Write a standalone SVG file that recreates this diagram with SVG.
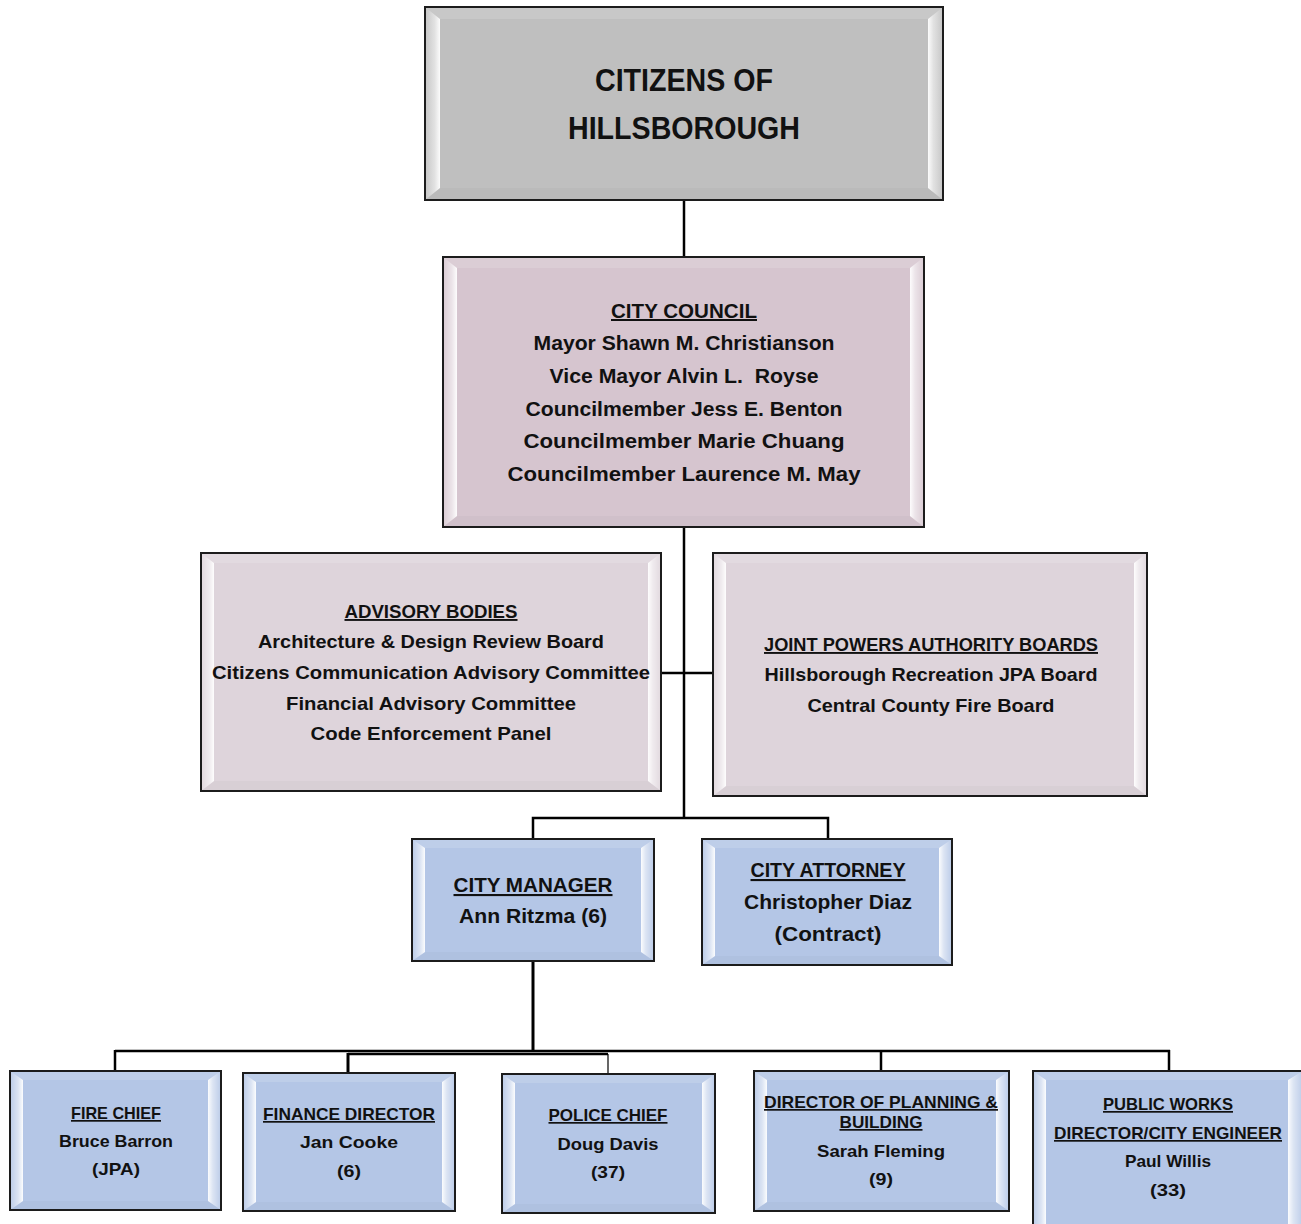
<svg xmlns="http://www.w3.org/2000/svg" width="1301" height="1224" viewBox="0 0 1301 1224">
<defs>
<linearGradient id="gl" x1="0" y1="0" x2="1" y2="0">
<stop offset="0" stop-color="#fff" stop-opacity="0.1"/>
<stop offset="0.65" stop-color="#fff" stop-opacity="0.55"/>
<stop offset="1" stop-color="#fff" stop-opacity="0.95"/>
</linearGradient>
<linearGradient id="gr" x1="0" y1="0" x2="1" y2="0">
<stop offset="0" stop-color="#fff" stop-opacity="0.95"/>
<stop offset="0.35" stop-color="#fff" stop-opacity="0.55"/>
<stop offset="1" stop-color="#fff" stop-opacity="0.1"/>
</linearGradient>
<style>
.box{stroke:#1c1c1c;stroke-width:2}
.fill-gray{fill:#bfbfbf}
.fill-mauve{fill:#d6c5cf}
.fill-lmauve{fill:#ded4db}
.fill-blue{fill:#b4c6e6}
.bl{fill:url(#gl)}
.br{fill:url(#gr)}
.bt{fill:#fff;fill-opacity:0.14}
.bb{fill:#000;fill-opacity:0.025}
.edge{fill:none;stroke:#1c1c1c;stroke-width:2}
.t{font-family:"Liberation Sans",Arial,sans-serif;font-weight:bold;fill:#111;text-anchor:middle}
.u{text-decoration:underline}
.c{stroke:#000;fill:none;stroke-width:2.5}
.c3{stroke:#000;fill:none;stroke-width:3}
.c1{stroke:#000;fill:none;stroke-width:1.2}
</style>
</defs>

<g id="connectors">
<line class="c" x1="684" y1="200" x2="684" y2="257"/>
<line class="c" x1="684" y1="527" x2="684" y2="819"/>
<line class="c" x1="661" y1="673" x2="713" y2="673"/>
<polyline class="c" points="533,839 533,818 828,818 828,839"/>
<line class="c3" x1="533" y1="961" x2="533" y2="1052"/>
<line class="c" x1="115" y1="1051" x2="1170" y2="1051"/>
<line class="c" x1="115" y1="1050" x2="115" y2="1071"/>
<line class="c3" x1="348" y1="1053" x2="348" y2="1073"/>
<line class="c" x1="348" y1="1054" x2="608" y2="1054"/>
<line class="c1" x1="608" y1="1054" x2="608" y2="1074"/>
<line class="c" x1="881" y1="1050" x2="881" y2="1071"/>
<line class="c" x1="1169" y1="1050" x2="1169" y2="1071"/>
</g>

<g id="citizens">
<rect class="fill-gray" x="425" y="7" width="518" height="193"/>
<polygon class="bt" points="425,7 943,7 928,19 440,19"/>
<polygon class="bb" points="425,200 943,200 928,188 440,188"/>
<polygon class="bl" points="425,7 440,19 440,188 425,200"/>
<polygon class="br" points="943,7 928,19 928,188 943,200"/>
<rect class="edge" x="425" y="7" width="518" height="193"/>
<text class="t" x="684" y="91" font-size="31" textLength="178" lengthAdjust="spacingAndGlyphs">CITIZENS OF</text>
<text class="t" x="684" y="139" font-size="31" textLength="232" lengthAdjust="spacingAndGlyphs">HILLSBOROUGH</text>
</g>

<g id="council">
<rect class="fill-mauve" x="443" y="257" width="481" height="270"/>
<polygon class="bt" points="443,257 924,257 910,268 457,268"/>
<polygon class="bb" points="443,527 924,527 910,516 457,516"/>
<polygon class="bl" points="443,257 457,268 457,516 443,527"/>
<polygon class="br" points="924,257 910,268 910,516 924,527"/>
<rect class="edge" x="443" y="257" width="481" height="270"/>
<text class="t u" x="684" y="318" font-size="20" textLength="146" lengthAdjust="spacingAndGlyphs">CITY COUNCIL</text>
<text class="t" x="684" y="350" font-size="20" textLength="301" lengthAdjust="spacingAndGlyphs">Mayor Shawn M. Christianson</text>
<text class="t" x="684" y="383" font-size="20" textLength="269" lengthAdjust="spacingAndGlyphs" xml:space="preserve">Vice Mayor Alvin L.  Royse</text>
<text class="t" x="684" y="416" font-size="20" textLength="317" lengthAdjust="spacingAndGlyphs">Councilmember Jess E. Benton</text>
<text class="t" x="684" y="448" font-size="20" textLength="321" lengthAdjust="spacingAndGlyphs">Councilmember Marie Chuang</text>
<text class="t" x="684" y="481" font-size="20" textLength="353" lengthAdjust="spacingAndGlyphs">Councilmember Laurence M. May</text>
</g>

<g id="advisory">
<rect class="fill-lmauve" x="201" y="553" width="460" height="238"/>
<polygon class="bt" points="201,553 661,553 648,563 214,563"/>
<polygon class="bb" points="201,791 661,791 648,781 214,781"/>
<polygon class="bl" points="201,553 214,563 214,781 201,791"/>
<polygon class="br" points="661,553 648,563 648,781 661,791"/>
<rect class="edge" x="201" y="553" width="460" height="238"/>
<text class="t u" x="431" y="618" font-size="19" textLength="173" lengthAdjust="spacingAndGlyphs">ADVISORY BODIES</text>
<text class="t" x="431" y="648" font-size="19" textLength="346" lengthAdjust="spacingAndGlyphs">Architecture &amp; Design Review Board</text>
<text class="t" x="431" y="679" font-size="19" textLength="438" lengthAdjust="spacingAndGlyphs">Citizens Communication Advisory Committee</text>
<text class="t" x="431" y="710" font-size="19" textLength="290" lengthAdjust="spacingAndGlyphs">Financial Advisory Committee</text>
<text class="t" x="431" y="740" font-size="19" textLength="241" lengthAdjust="spacingAndGlyphs">Code Enforcement Panel</text>
</g>

<g id="jpa">
<rect class="fill-lmauve" x="713" y="553" width="434" height="243"/>
<polygon class="bt" points="713,553 1147,553 1134,563 726,563"/>
<polygon class="bb" points="713,796 1147,796 1134,786 726,786"/>
<polygon class="bl" points="713,553 726,563 726,786 713,796"/>
<polygon class="br" points="1147,553 1134,563 1134,786 1147,796"/>
<rect class="edge" x="713" y="553" width="434" height="243"/>
<text class="t u" x="931" y="651" font-size="19" textLength="334" lengthAdjust="spacingAndGlyphs">JOINT POWERS AUTHORITY BOARDS</text>
<text class="t" x="931" y="681" font-size="19" textLength="333" lengthAdjust="spacingAndGlyphs">Hillsborough Recreation JPA Board</text>
<text class="t" x="931" y="712" font-size="19" textLength="247" lengthAdjust="spacingAndGlyphs">Central County Fire Board</text>
</g>

<g id="city-manager">
<rect class="fill-blue" x="412" y="839" width="242" height="122"/>
<polygon class="bt" points="412,839 654,839 641,848 425,848"/>
<polygon class="bb" points="412,961 654,961 641,952 425,952"/>
<polygon class="bl" points="412,839 425,848 425,952 412,961"/>
<polygon class="br" points="654,839 641,848 641,952 654,961"/>
<rect class="edge" x="412" y="839" width="242" height="122"/>
<text class="t u" x="533" y="892" font-size="21" textLength="159" lengthAdjust="spacingAndGlyphs">CITY MANAGER</text>
<text class="t" x="533" y="923" font-size="21" textLength="148" lengthAdjust="spacingAndGlyphs">Ann Ritzma (6)</text>
</g>

<g id="city-attorney">
<rect class="fill-blue" x="702" y="839" width="250" height="126"/>
<polygon class="bt" points="702,839 952,839 939,848 715,848"/>
<polygon class="bb" points="702,965 952,965 939,956 715,956"/>
<polygon class="bl" points="702,839 715,848 715,956 702,965"/>
<polygon class="br" points="952,839 939,848 939,956 952,965"/>
<rect class="edge" x="702" y="839" width="250" height="126"/>
<text class="t u" x="828" y="877" font-size="21" textLength="155" lengthAdjust="spacingAndGlyphs">CITY ATTORNEY</text>
<text class="t" x="828" y="909" font-size="21" textLength="168" lengthAdjust="spacingAndGlyphs">Christopher Diaz</text>
<text class="t" x="828" y="941" font-size="21" textLength="107" lengthAdjust="spacingAndGlyphs">(Contract)</text>
</g>

<g id="fire-chief">
<rect class="fill-blue" x="10" y="1071" width="211" height="139"/>
<polygon class="bt" points="10,1071 221,1071 208,1080 23,1080"/>
<polygon class="bb" points="10,1210 221,1210 208,1201 23,1201"/>
<polygon class="bl" points="10,1071 23,1080 23,1201 10,1210"/>
<polygon class="br" points="221,1071 208,1080 208,1201 221,1210"/>
<rect class="edge" x="10" y="1071" width="211" height="139"/>
<text class="t u" x="116" y="1119" font-size="17" textLength="90" lengthAdjust="spacingAndGlyphs">FIRE CHIEF</text>
<text class="t" x="116" y="1147" font-size="17" textLength="114" lengthAdjust="spacingAndGlyphs">Bruce Barron</text>
<text class="t" x="116" y="1175" font-size="17" textLength="48" lengthAdjust="spacingAndGlyphs">(JPA)</text>
</g>

<g id="finance-director">
<rect class="fill-blue" x="243" y="1073" width="212" height="138"/>
<polygon class="bt" points="243,1073 455,1073 442,1082 256,1082"/>
<polygon class="bb" points="243,1211 455,1211 442,1202 256,1202"/>
<polygon class="bl" points="243,1073 256,1082 256,1202 243,1211"/>
<polygon class="br" points="455,1073 442,1082 442,1202 455,1211"/>
<rect class="edge" x="243" y="1073" width="212" height="138"/>
<text class="t u" x="349" y="1120" font-size="17" textLength="172" lengthAdjust="spacingAndGlyphs">FINANCE DIRECTOR</text>
<text class="t" x="349" y="1148" font-size="17" textLength="98" lengthAdjust="spacingAndGlyphs">Jan Cooke</text>
<text class="t" x="349" y="1177" font-size="17" textLength="24" lengthAdjust="spacingAndGlyphs">(6)</text>
</g>

<g id="police-chief">
<rect class="fill-blue" x="502" y="1074" width="213" height="139"/>
<polygon class="bt" points="502,1074 715,1074 702,1083 515,1083"/>
<polygon class="bb" points="502,1213 715,1213 702,1204 515,1204"/>
<polygon class="bl" points="502,1074 515,1083 515,1204 502,1213"/>
<polygon class="br" points="715,1074 702,1083 702,1204 715,1213"/>
<rect class="edge" x="502" y="1074" width="213" height="139"/>
<text class="t u" x="608" y="1121" font-size="17" textLength="119" lengthAdjust="spacingAndGlyphs">POLICE CHIEF</text>
<text class="t" x="608" y="1150" font-size="17" textLength="101" lengthAdjust="spacingAndGlyphs">Doug Davis</text>
<text class="t" x="608" y="1178" font-size="17" textLength="34" lengthAdjust="spacingAndGlyphs">(37)</text>
</g>

<g id="planning-director">
<rect class="fill-blue" x="754" y="1071" width="255" height="140"/>
<polygon class="bt" points="754,1071 1009,1071 996,1080 767,1080"/>
<polygon class="bb" points="754,1211 1009,1211 996,1202 767,1202"/>
<polygon class="bl" points="754,1071 767,1080 767,1202 754,1211"/>
<polygon class="br" points="1009,1071 996,1080 996,1202 1009,1211"/>
<rect class="edge" x="754" y="1071" width="255" height="140"/>
<text class="t u" x="881" y="1108" font-size="17" textLength="234" lengthAdjust="spacingAndGlyphs">DIRECTOR OF PLANNING &amp;</text>
<text class="t u" x="881" y="1128" font-size="17" textLength="83" lengthAdjust="spacingAndGlyphs">BUILDING</text>
<text class="t" x="881" y="1157" font-size="17" textLength="128" lengthAdjust="spacingAndGlyphs">Sarah Fleming</text>
<text class="t" x="881" y="1185" font-size="17" textLength="24" lengthAdjust="spacingAndGlyphs">(9)</text>
</g>

<g id="public-works">
<rect class="fill-blue" x="1033" y="1071" width="270" height="162"/>
<polygon class="bt" points="1033,1071 1303,1071 1290,1080 1046,1080"/>
<polygon class="bl" points="1033,1071 1046,1080 1046,1224 1033,1233"/>
<polygon class="br" points="1303,1071 1288,1080 1288,1224 1303,1233"/>
<rect class="edge" x="1033" y="1071" width="270" height="162"/>
<text class="t u" x="1168" y="1110" font-size="17" textLength="130" lengthAdjust="spacingAndGlyphs">PUBLIC WORKS</text>
<text class="t u" x="1168" y="1139" font-size="17" textLength="228" lengthAdjust="spacingAndGlyphs">DIRECTOR/CITY ENGINEER</text>
<text class="t" x="1168" y="1167" font-size="17" textLength="86" lengthAdjust="spacingAndGlyphs">Paul Willis</text>
<text class="t" x="1168" y="1196" font-size="17" textLength="36" lengthAdjust="spacingAndGlyphs">(33)</text>
</g>
</svg>
